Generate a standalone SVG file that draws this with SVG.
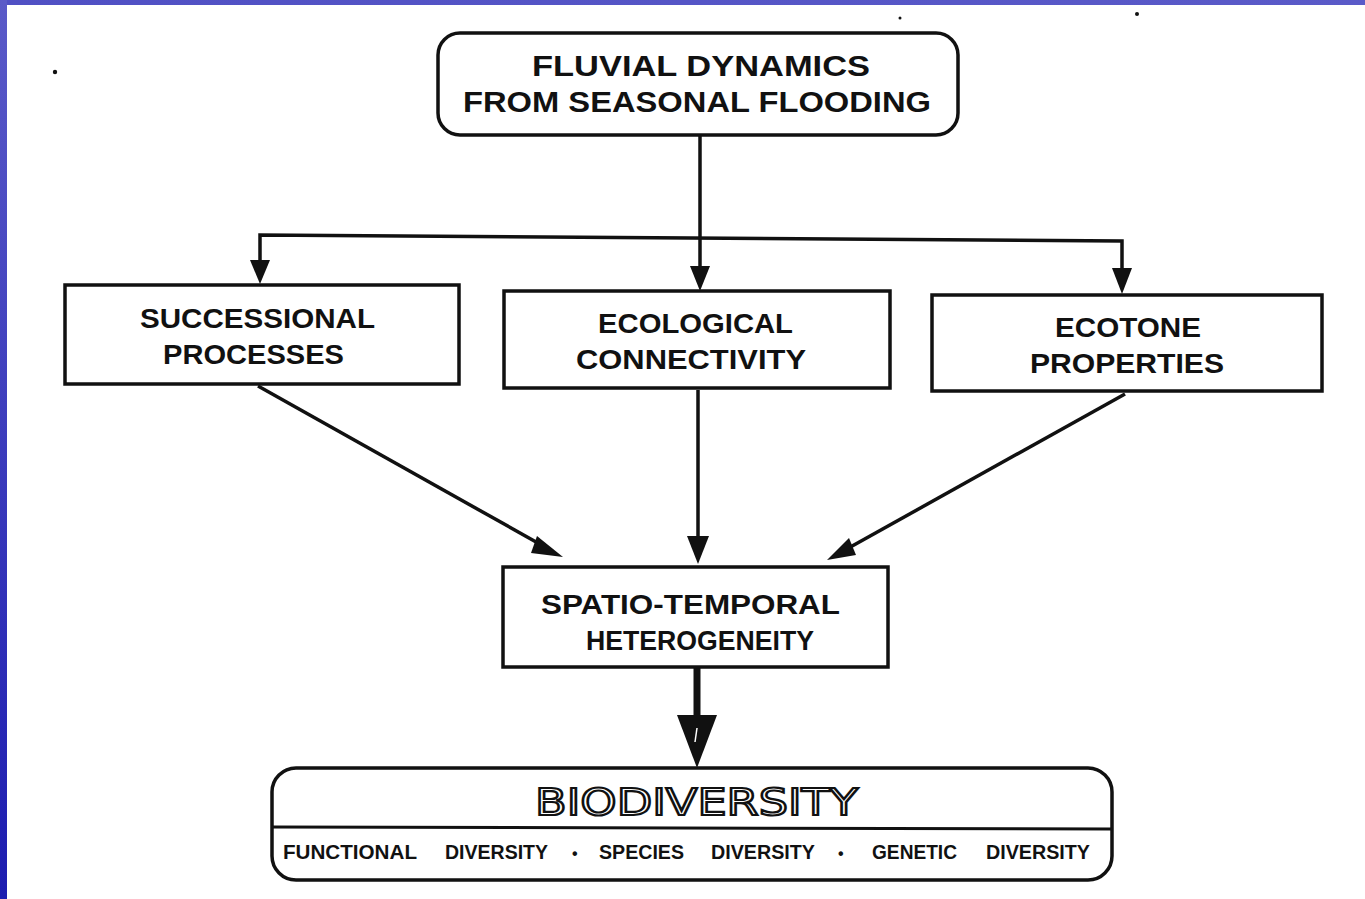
<svg xmlns="http://www.w3.org/2000/svg" width="1365" height="899" viewBox="0 0 1365 899">
<defs>
<linearGradient id="blueL" x1="0" y1="0" x2="0" y2="1"><stop offset="0" stop-color="#5a5ac8"/><stop offset="1" stop-color="#1c1cb0"/></linearGradient>
<linearGradient id="blueT" x1="0" y1="0" x2="1" y2="0"><stop offset="0" stop-color="#5050c4"/><stop offset="1" stop-color="#5a5ac8"/></linearGradient>
</defs>
<style>
.box{fill:#fff;stroke:#111;stroke-width:3.5}
.ln{fill:none;stroke:#111;stroke-width:3.5}
.ah{fill:#111}
.t{font-family:"Liberation Sans",Arial,sans-serif;font-weight:bold;fill:#111;text-anchor:start}
.tn{font-family:"Liberation Sans",Arial,sans-serif;font-weight:bold;fill:#111}
.bio{font-family:"DejaVu Sans",sans-serif;fill:#fff;stroke:#111;stroke-width:2.2}
</style>
<rect width="1365" height="899" fill="#fff"/>
<rect x="0" y="0" width="1365" height="5" fill="url(#blueT)"/>
<rect x="0" y="0" width="7" height="899" fill="url(#blueL)"/>
<circle cx="55" cy="72" r="2.2" fill="#111"/>
<circle cx="1137" cy="14" r="2" fill="#111"/>
<circle cx="900" cy="18" r="1.5" fill="#111"/>

<g id="connectors">
<path class="ln" d="M700,135 V238"/>
<path class="ln" d="M260,260 V235 L1122,241 V270"/>
<path class="ln" d="M700,238 V268"/>
<polygon class="ah" points="250,260 270,260 260,284"/>
<polygon class="ah" points="690,266 710,266 700,291"/>
<polygon class="ah" points="1112,268 1132,268 1122,294"/>
<path class="ln" d="M258,386 L545,547"/>
<polygon class="ah" points="537,536 563,557 531,553"/>
<path class="ln" d="M698,390 V540"/>
<polygon class="ah" points="687,536 709,536 698,564"/>
<path class="ln" d="M1125,394 L845,550"/>
<polygon class="ah" points="849,538 827,560 856,555"/>
<path d="M697,667 V716" fill="none" stroke="#111" stroke-width="7"/>
<polygon class="ah" points="677,715 717,715 697,768"/>
<path d="M697,728 L695,742" stroke="#fff" stroke-width="1.5"/>
</g>

<g id="n-fluvial">
<rect class="box" x="438" y="33" width="520" height="102" rx="22" stroke-width="4.5"/>
<text class="t" x="532" y="76" font-size="29" textLength="338" lengthAdjust="spacingAndGlyphs">FLUVIAL  DYNAMICS</text>
<text class="t" x="463" y="112" font-size="29" textLength="468" lengthAdjust="spacingAndGlyphs">FROM  SEASONAL  FLOODING</text>
</g>

<g id="n-successional">
<rect class="box" x="65" y="285" width="394" height="99"/>
<text class="t" x="140" y="328" font-size="28" textLength="235" lengthAdjust="spacingAndGlyphs">SUCCESSIONAL</text>
<text class="t" x="163" y="364" font-size="28" textLength="181" lengthAdjust="spacingAndGlyphs">PROCESSES</text>
</g>

<g id="n-ecological">
<rect class="box" x="504" y="291" width="386" height="97"/>
<text class="t" x="598" y="333" font-size="28" textLength="195" lengthAdjust="spacingAndGlyphs">ECOLOGICAL</text>
<text class="t" x="576" y="369" font-size="28" textLength="230" lengthAdjust="spacingAndGlyphs">CONNECTIVITY</text>
</g>

<g id="n-ecotone">
<rect class="box" x="932" y="295" width="390" height="96"/>
<text class="t" x="1055" y="337" font-size="28" textLength="146" lengthAdjust="spacingAndGlyphs">ECOTONE</text>
<text class="t" x="1030" y="373" font-size="28" textLength="194" lengthAdjust="spacingAndGlyphs">PROPERTIES</text>
</g>

<g id="n-spatio">
<rect class="box" x="503" y="567" width="385" height="100" stroke-width="4"/>
<text class="t" x="541" y="614" font-size="27" textLength="299" lengthAdjust="spacingAndGlyphs">SPATIO-TEMPORAL</text>
<text class="t" x="586" y="650" font-size="27" textLength="228" lengthAdjust="spacingAndGlyphs">HETEROGENEITY</text>
</g>

<g id="n-biodiversity">
<rect class="box" x="272" y="768" width="840" height="112" rx="24" stroke-width="4"/>
<line x1="272" y1="827" x2="1112" y2="829" stroke="#111" stroke-width="3"/>
<text class="bio" x="535" y="815" font-size="38" textLength="323" lengthAdjust="spacingAndGlyphs">BIODIVERSITY</text>
<text class="tn" x="283" y="859" font-size="20" textLength="134" lengthAdjust="spacingAndGlyphs">FUNCTIONAL</text>
<text class="tn" x="445" y="859" font-size="20" textLength="103" lengthAdjust="spacingAndGlyphs">DIVERSITY</text>
<text class="tn" x="572" y="859" font-size="16">•</text>
<text class="tn" x="599" y="859" font-size="20" textLength="85" lengthAdjust="spacingAndGlyphs">SPECIES</text>
<text class="tn" x="711" y="859" font-size="20" textLength="104" lengthAdjust="spacingAndGlyphs">DIVERSITY</text>
<text class="tn" x="838" y="859" font-size="16">•</text>
<text class="tn" x="872" y="859" font-size="20" textLength="85" lengthAdjust="spacingAndGlyphs">GENETIC</text>
<text class="tn" x="986" y="859" font-size="20" textLength="104" lengthAdjust="spacingAndGlyphs">DIVERSITY</text>
</g>
</svg>
